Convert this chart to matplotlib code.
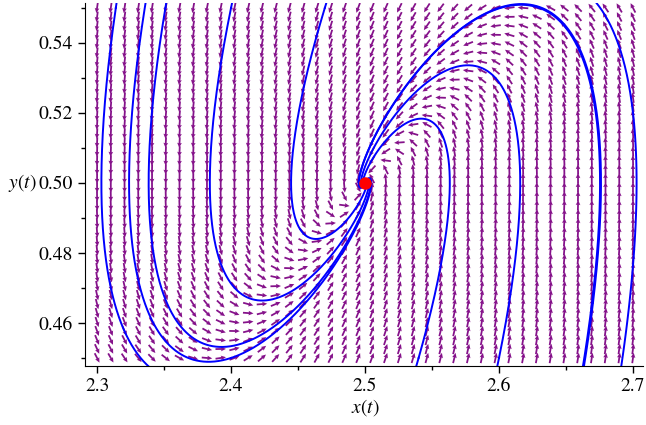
import numpy as np
import matplotlib.pyplot as plt

plt.rcParams['font.family'] = ['STIXGeneral', 'DejaVu Serif']
plt.rcParams['mathtext.fontset'] = 'stix'

# equilibrium point and linear system about it: x' = J (X - X_eq)
x_eq, y_eq = 2.5, 0.5
jac = [[0.0, -1.6],
       [0.7, -1.6]]

# initial conditions of the solution curves
x0 = [2.314, 2.351, 2.40, 2.47, 2.60, 2.63, 2.70, 2.60, 2.40, 2.54]
y0 = [0.55, 0.55, 0.55, 0.55, 0.55, 0.55, 0.52, 0.45, 0.45, 0.45]

# direction field grid
n_cols, n_rows = 40, 40
x_min, x_max = 2.3, 2.7
y_min, y_max = 0.45, 0.55

xticks = [2.3, 2.4, 2.5, 2.6, 2.7]
yticks = [0.46, 0.48, 0.50, 0.52, 0.54]


def rhs(x, y):
    u, v = x - x_eq, y - y_eq
    return jac[0][0] * u + jac[0][1] * v, jac[1][0] * u + jac[1][1] * v


def solve(xs, ys, dt, steps=20000):
    px, py = [xs], [ys]
    x, y = xs, ys
    for _ in range(steps):
        k1 = rhs(x, y)
        k2 = rhs(x + dt / 2 * k1[0], y + dt / 2 * k1[1])
        k3 = rhs(x + dt / 2 * k2[0], y + dt / 2 * k2[1])
        k4 = rhs(x + dt * k3[0], y + dt * k3[1])
        x = x + dt / 6 * (k1[0] + 2 * k2[0] + 2 * k3[0] + k4[0])
        y = y + dt / 6 * (k1[1] + 2 * k2[1] + 2 * k3[1] + k4[1])
        px.append(x)
        py.append(y)
        if x < 2.28 or x > 2.72 or y < 0.445 or y > 0.555:
            break
        if abs(x - x_eq) < 1e-4 and abs(y - y_eq) < 3e-5:
            break
    return px, py


fig = plt.figure(figsize=(6.46, 4.25), dpi=100)
ax = fig.add_axes([0.1316, 0.1388, 0.8638, 0.8542])
ax.set_xlim(2.291, 2.7075)
ax.set_ylim(0.4477, 0.5514)

# arrows: direction measured on screen, fixed length
sx = 0.8638 * 646 / (2.7075 - 2.291)
sy = 0.8542 * 425 / (0.5514 - 0.4477)
gx, gy = np.meshgrid(np.linspace(x_min, x_max, n_cols), np.linspace(y_min, y_max, n_rows))
du, dv = rhs(gx, gy)
du, dv = du * sx, dv * sy
norm = np.hypot(du, dv)
norm[norm == 0] = 1
ax.quiver(gx, gy, du / norm, dv / norm, angles='uv', pivot='middle',
          scale_units='inches', scale=9.5, width=0.0032, headwidth=2.6,
          headlength=2.8, headaxislength=2.5, color='#85128a', zorder=1)

for xs, ys in zip(x0, y0):
    for dt in (0.004, -0.004):
        px, py = solve(xs, ys, dt)
        ax.plot(px, py, color='#0000ff', lw=1.4, zorder=2)

ax.plot([x_eq], [y_eq], 'o', color='#ff0000', ms=8, zorder=3)

ax.spines['top'].set_visible(False)
ax.spines['right'].set_visible(False)
ax.set_xticks(xticks)
ax.set_xticklabels([f'{t:.1f}' for t in xticks])
ax.set_xticks(np.arange(2.35, 2.7, 0.1), minor=True)
ax.set_yticks(yticks)
ax.set_yticklabels([f'{t:.2f}' for t in yticks])
ax.set_yticks(np.arange(0.45, 0.555, 0.02), minor=True)
ax.tick_params(labelsize=14, length=5, width=1)
ax.tick_params(which='minor', length=3, width=1)

fig.text(365 / 646, 1 - 408 / 425, '$x(t)$', fontsize=14, ha='center', va='center')
fig.text(22 / 646, 1 - 183 / 425, '$y(t)$', fontsize=14, ha='center', va='center')

fig.savefig('out.png', dpi=100)
